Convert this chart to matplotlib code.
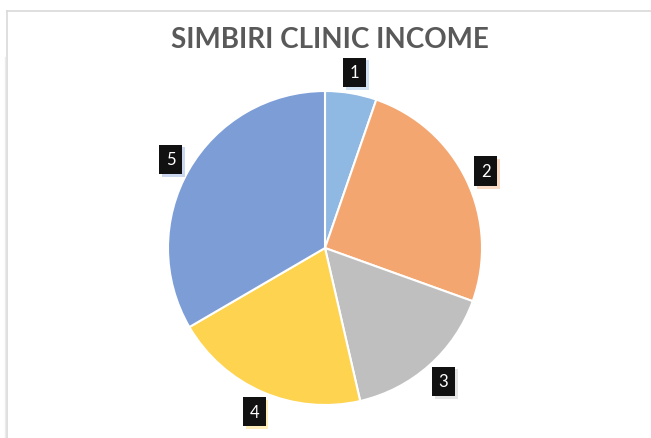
import matplotlib
matplotlib.use("Agg")
import matplotlib.pyplot as plt
import matplotlib.patheffects as pe
from matplotlib.lines import Line2D

categories = ['1', '2', '3', '4', '5']
values = [5.3, 25.2, 15.9, 20.2, 33.4]
colors = ['#8FB8E2', '#F3A670', '#BFBFBF', '#FED34F', '#7D9DD6']
title = 'SIMBIRI CLINIC INCOME'

W, H = 651, 439
fig = plt.figure(figsize=(W / 100, H / 100), dpi=100)
ax = fig.add_axes([0, 0, 1, 1])

# frame lines
fig.add_artist(Line2D([7 / W, 7 / W], [0, 1 - 12 / H], transform=fig.transFigure, color='#D9D9D9', lw=1.2))
fig.add_artist(Line2D([7 / W, 1], [1 - 12 / H, 1 - 12 / H], transform=fig.transFigure, color='#D9D9D9', lw=1.2))
fig.add_artist(Line2D([4.5 / W, 4.5 / W], [0, 1 - 58 / H], transform=fig.transFigure, color='#EBEBEB', lw=1.0))

wedges, texts = ax.pie(values, labels=categories, colors=colors, startangle=90,
                       counterclock=False, center=(325, H - 249), radius=157,
                       labeldistance=1.135, frame=True,
                       wedgeprops=dict(edgecolor='white', linewidth=1.5))
ax.set_xlim(0, W)
ax.set_ylim(0, H)
ax.axis('off')

for t, c in zip(texts, colors):
    t.set_ha('center')
    t.set_va('center')
    t.set_color('white')
    t.set_fontsize(12)
    t.set_family(['Lato', 'DejaVu Sans'])
    t.set_bbox(dict(boxstyle='square,pad=0.4', facecolor='#111111', edgecolor='none'))
    t.get_bbox_patch().set_path_effects([
        pe.SimplePatchShadow(offset=(2, -2), shadow_rgbFace=c, alpha=0.4),
        pe.Normal()])

fig.text(330 / W, 1 - 40 / H, title, ha='center', va='center', fontsize=20,
         fontweight='bold', color='#595959', family=['Lato', 'DejaVu Sans'])

fig.savefig('out.png', dpi=100)
